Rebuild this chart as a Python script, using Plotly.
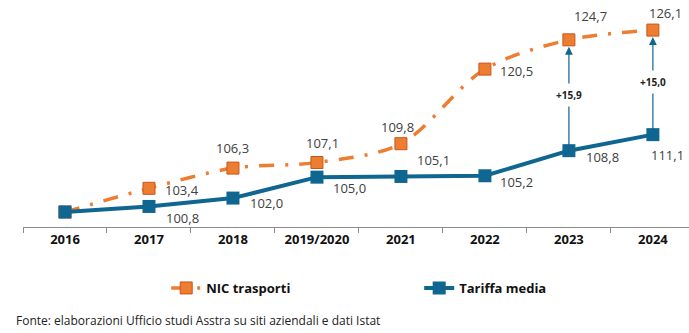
import plotly.graph_objects as go

categories = ["2016", "2017", "2018", "2019/2020", "2021", "2022", "2023", "2024"]
nic = [100.0, 103.4, 106.3, 107.1, 109.8, 120.5, 124.7, 126.1]
tariffa = [100.0, 100.8, 102.0, 105.0, 105.1, 105.2, 108.8, 111.1]
nic_labels = ["", "103,4", "106,3", "107,1", "109,8", "120,5", "124,7", "126,1"]
tariffa_labels = ["", "100,8", "102,0", "105,0", "105,1", "105,2", "108,8", "111,1"]
gap_idx = [6, 7]
gap_labels = ["+15,9", "+15,0"]

# label pixel offsets (style only)
nic_off = [(0, 0), (33, -2), (0, 20), (6, 20), (-3, 17), (32, -2), (22, 24), (13, 17)]
tar_off = [(0, 0), (34, -12), (34, -5), (33, -11), (33, 16), (32, -6), (34, -6), (15, -20)]

ORANGE = "#ED7D31"
ORANGE_EDGE = "#C8561A"
BLUE = "#0F6690"
FONT = "Open Sans"

x_idx = list(range(len(categories)))

fig = go.Figure()
fig.add_trace(go.Scatter(
    x=x_idx, y=nic, mode="lines+markers", name="NIC trasporti",
    line=dict(color=ORANGE, width=3.5, dash="15px,11px,3px,11px", shape="spline", smoothing=0.9),
    marker=dict(symbol="square", size=12, color=ORANGE, line=dict(color=ORANGE_EDGE, width=1)),
))
fig.add_trace(go.Scatter(
    x=x_idx, y=tariffa, mode="lines+markers", name="Tariffa media",
    line=dict(color=BLUE, width=4),
    marker=dict(symbol="square", size=13, color=BLUE),
))

annotations = []
for i, (v, lab) in enumerate(zip(nic, nic_labels)):
    if lab:
        dx, dy = nic_off[i]
        annotations.append(dict(x=i, y=v, xref="x", yref="y", text=lab, showarrow=False,
                                xshift=dx, yshift=dy, font=dict(family=FONT, size=13, color="#404040")))
for i, (v, lab) in enumerate(zip(tariffa, tariffa_labels)):
    if lab:
        dx, dy = tar_off[i]
        annotations.append(dict(x=i, y=v, xref="x", yref="y", text=lab, showarrow=False,
                                xshift=dx, yshift=dy, font=dict(family=FONT, size=13, color="#404040")))
for i, lab in zip(gap_idx, gap_labels):
    annotations.append(dict(x=i, y=nic[i], xref="x", yref="y", ax=i, ay=tariffa[i],
                            axref="x", ayref="y", text="", showarrow=True,
                            arrowhead=2, arrowsize=1.3, arrowwidth=1.2, arrowcolor=BLUE, standoff=7))
    annotations.append(dict(x=i, y=(nic[i] + tariffa[i]) / 2, xref="x", yref="y", text="<b>" + lab + "</b>",
                            showarrow=False, bgcolor="white", borderpad=4,
                            font=dict(family=FONT, size=10, color="#222222")))
annotations.append(dict(x=-0.0135, y=-0.43, xref="paper", yref="paper", xanchor="left", yanchor="middle",
                        text="Fonte: elaborazioni Ufficio studi Asstra su siti aziendali e dati Istat",
                        showarrow=False, font=dict(family=FONT, size=12, color="#222222")))

fig.update_layout(
    width=689, height=333,
    margin=dict(l=23, r=0, t=10, b=106),
    paper_bgcolor="white", plot_bgcolor="white",
    font=dict(family=FONT, color="#222222"),
    showlegend=True,
    legend=dict(orientation="h", x=0.215, y=-0.281, xanchor="left", yanchor="middle",
                entrywidth=208, entrywidthmode="pixels",
                font=dict(family=FONT, size=13, color="#111111", weight="bold")),
    annotations=annotations,
)
fig.update_xaxes(
    range=[-0.5, 7.43], tickmode="array", tickvals=x_idx, ticktext=["<b>%s</b>" % c for c in categories],
    showgrid=False, zeroline=False, showline=True, linecolor="#8c8c8c", linewidth=1,
    ticks="", tickfont=dict(family=FONT, size=13, color="#111111"),
)
fig.update_xaxes(minor=dict(tickmode="array", tickvals=[i - 0.5 for i in x_idx], ticks="outside",
                            ticklen=5, tickcolor="#8c8c8c", tickwidth=1, showgrid=False))
fig.update_yaxes(range=[97.85, 128.98], visible=False, showgrid=False, zeroline=False)

fig.write_html("out.html")
